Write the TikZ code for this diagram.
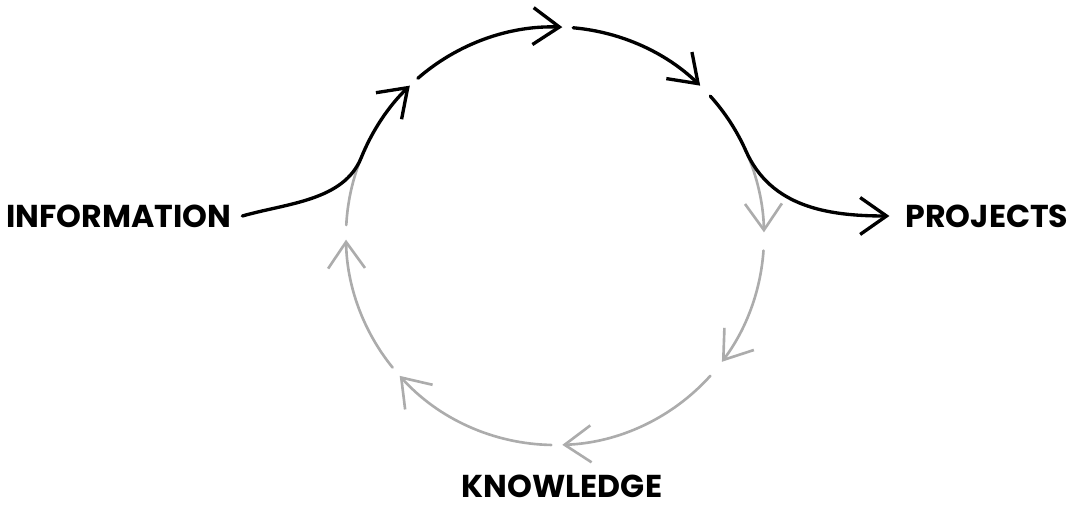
\documentclass[tikz,border=0pt]{standalone}
\usepackage{fontspec}
\setsansfont{Poppins}
\usepackage{tikz}
\usetikzlibrary{arrows.meta, calc}
\definecolor{cyclegrey}{RGB}{172, 172, 172}

\begin{document}
\begin{tikzpicture}[
    x=0.02cm, y=0.02cm,
    stagelabel/.style={font=\sffamily\bfseries\fontsize{18}{20}\selectfont,
        inner sep=0pt, text=black},
    flowarrow/.style={-{Straight Barb[length=15pt, width=21pt]},
        line width=1.9pt, line cap=round, color=black},
    loopline/.style={line width=1.5pt, line cap=round, color=cyclegrey},
    looparrow/.style={loopline, -{Straight Barb[length=15pt, width=21pt]}},
]
\useasboundingbox (0,0) rectangle (1075,510);

% ── LABELS ──────────────────────────────────────────────────────────────────
\node[stagelabel] at (119, 294) (info) {INFORMATION};
\node[stagelabel] at (987, 294) (proj) {PROJECTS};
\node[stagelabel] at (562,  24) (know) {KNOWLEDGE};

% ── CYCLE (centre of the loop, radius 209) ──────────────────────────────────
\coordinate (c) at (555, 274);

% grey return loop, drawn first so the black path sits on top
\draw[loopline]  ($(c)+(177:209)$) arc[start angle=177, end angle=158, radius=209];
\draw[looparrow] ($(c)+(24:209)$)  arc[start angle=24,  end angle=1,   radius=209];
\draw[looparrow] ($(c)+(-4:209)$)  arc[start angle=-4,  end angle=-37, radius=209];
\draw[looparrow] ($(c)+(-42:209)$) arc[start angle=-42, end angle=-88, radius=209];
\draw[looparrow] ($(c)+(-91:209)$) arc[start angle=-91, end angle=-138, radius=209];
\draw[looparrow] ($(c)+(-141:209)$) arc[start angle=-141, end angle=-179, radius=209];

% ── MAIN FLOW: information -> projects over the top ─────────────────────────
\draw[flowarrow] ([xshift=6pt]info.east) to[out=16, in=248, looseness=0.9] ($(c)+(158:209)$)
    arc[start angle=158, end angle=134, radius=209];
\draw[flowarrow] ($(c)+(131:209)$) arc[start angle=131, end angle=88, radius=209];
\draw[flowarrow] ($(c)+(85:209)$)  arc[start angle=85,  end angle=46, radius=209];
\draw[flowarrow] ($(c)+(42:209)$)  arc[start angle=42,  end angle=24, radius=209]
    to[out=-66, in=180] ([xshift=-9pt]proj.west);

\end{tikzpicture}
\end{document}
